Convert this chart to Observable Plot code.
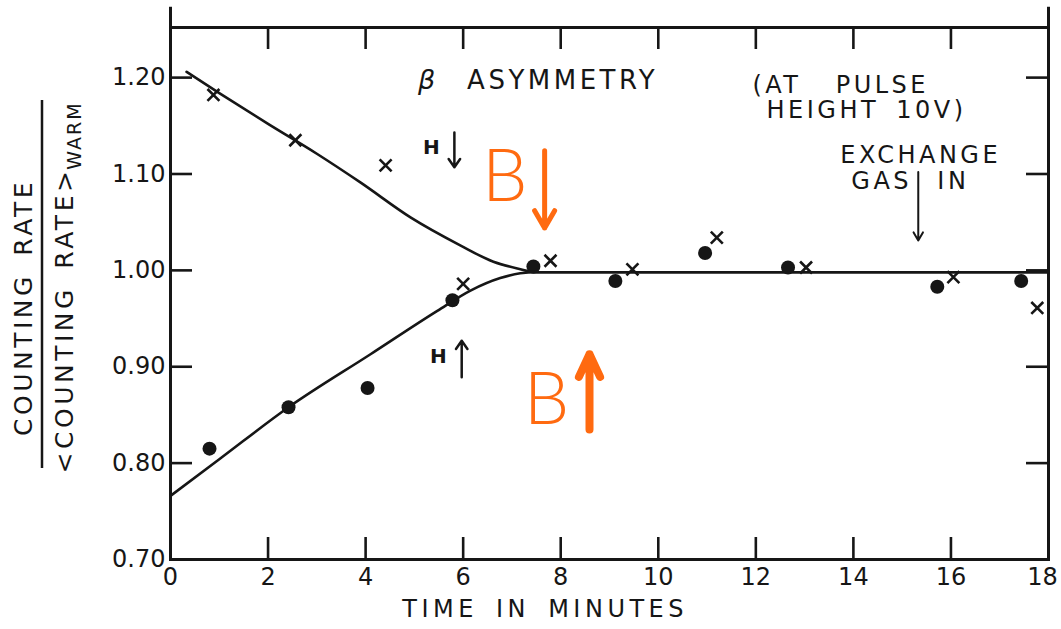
<!DOCTYPE html>
<html>
<head>
<meta charset="utf-8">
<script src="https://cdn.jsdelivr.net/npm/d3@7"></script>
<script src="https://cdn.jsdelivr.net/npm/@observablehq/plot@0.6"></script>
<style>
  body { margin: 0; background: #fff; }
  #chart svg { display: block; }
</style>
</head>
<body>
<div id="chart"></div>
<script>
// β asymmetry of Co-60 decay vs. time after demagnetization (pulse height 10 V)

const INK = "#161616";
const ORANGE = "#ff6a10";

// Field down (H↓): crosses
const crossTime = [0.88, 2.56, 4.41, 6.00, 7.79, 9.47, 11.20, 13.03, 16.05, 17.77];
const crossRate = [1.182, 1.135, 1.109, 0.986, 1.010, 1.001, 1.034, 1.003, 0.993, 0.961];

// Field up (H↑): filled dots
const dotTime = [0.80, 2.42, 4.04, 5.78, 7.44, 9.12, 10.96, 12.66, 15.72, 17.44];
const dotRate = [0.815, 0.858, 0.878, 0.969, 1.004, 0.989, 1.018, 1.003, 0.983, 0.989];

// Smooth guide curves through the two field directions
const upperCurveTime = [0.33, 1.0, 2.0, 3.0, 3.9, 4.92, 5.94, 6.62, 7.11, 7.5, 18];
const upperCurveRate = [1.206, 1.184, 1.152, 1.121, 1.091, 1.055, 1.026, 1.009, 1.002, 0.998, 0.998];
const lowerCurveTime = [0, 1.0, 2.42, 4.1, 5.47, 6.15, 6.76, 7.17, 7.5, 18];
const lowerCurveRate = [0.766, 0.804, 0.858, 0.913, 0.958, 0.979, 0.992, 0.997, 0.998, 0.998];

// Axis ticks
const xTicks = [0, 2, 4, 6, 8, 10, 12, 14, 16, 18];
const yTicks = [0.70, 0.80, 0.90, 1.00, 1.10, 1.20];

// Annotation labels (position in minutes / ratio units)
const titleText = ["ASYMMETRY"];
const titleTime = [8.04];
const titleRate = [1.197];

const pulseText = ["(AT  PULSE", "HEIGHT 10V)"];
const pulseTime = [13.74, 14.27];
const pulseRate = [1.192, 1.166];

const gasText = ["EXCHANGE", "GAS", "IN"];
const gasTextTime = [15.38, 14.58, 16.05];
const gasTextRate = [1.119, 1.092, 1.092];
const gasArrowTime = [15.33];
const gasArrowFrom = [1.102];
const gasArrowTo = [1.031];

const fieldText = ["H", "H"];
const fieldTextTime = [5.35, 5.49];
const fieldTextRate = [1.127, 0.911];
const fieldArrowTime = [5.82, 5.97];
const fieldArrowFrom = [1.143, 0.889];
const fieldArrowTo = [1.107, 0.927];

const bText = ["B", "B"];
const bTextTime = [6.85, 7.71];
const bTextRate = [1.096, 0.865];
const bDownArrow = {t: 7.67, from: 1.124, to: 1.044};
const bUpArrow = {t: 8.59, from: 0.835, to: 0.913};

const zip = (a, b) => a.map((v, i) => ({t: v, r: b[i]}));
const crosses = zip(crossTime, crossRate);
const dots = zip(dotTime, dotRate);
const upperCurve = zip(upperCurveTime, upperCurveRate);
const lowerCurve = zip(lowerCurveTime, lowerCurveRate);
const labelled = (texts, ts, rs) => texts.map((s, i) => ({s, t: ts[i], r: rs[i]}));
const titles = labelled(titleText, titleTime, titleRate);
const pulseNotes = labelled(pulseText, pulseTime, pulseRate);
const gasNotes = labelled(gasText, gasTextTime, gasTextRate);
const fieldLabels = labelled(fieldText, fieldTextTime, fieldTextRate);
const bLabels = labelled(bText, bTextTime, bTextRate);
const fieldArrows = fieldArrowTime.map((t, i) => ({t, from: fieldArrowFrom[i], to: fieldArrowTo[i]}));
const gasArrows = gasArrowTime.map((t, i) => ({t, from: gasArrowFrom[i], to: gasArrowTo[i]}));

const xMin = 0, xMax = 18;
const yMin = 0.70, yMax = 1.252, yOverhang = 1.273;

// layout
const W = 1061, H = 629;
const M = {top: 27, right: 13, bottom: 70, left: 170};
const frameW = W - M.left - M.right;
const frameH = H - M.top - M.bottom;
const TICK = 22;
// tick length expressed in each axis's own units
const tickDx = TICK * (xMax - xMin) / frameW;
const tickDy = TICK * (yMax - yMin) / frameH;

const chart = Plot.plot({
  width: W,
  height: H,
  marginLeft: M.left,
  marginRight: M.right,
  marginTop: M.top,
  marginBottom: M.bottom,
  style: {fontFamily: "DejaVu Sans", fontSize: "24px", color: INK, background: "#fff"},
  x: {domain: [xMin, xMax]},
  y: {domain: [yMin, yMax]},
  marks: [
    Plot.frame({stroke: INK, strokeWidth: 3}),
    Plot.ruleX([xMin, xMax], {y1: yMax, y2: yOverhang, stroke: INK, strokeWidth: 3}),

    // inward ticks on all four sides
    Plot.ruleX(xTicks, {x: d => d, y1: yMin, y2: yMin + tickDy, stroke: INK, strokeWidth: 2.6}),
    Plot.ruleX(xTicks, {x: d => d, y1: yMax, y2: yMax - tickDy, stroke: INK, strokeWidth: 2.6}),
    Plot.ruleY(yTicks, {y: d => d, x1: xMin, x2: xMin + tickDx, stroke: INK, strokeWidth: 2.6}),
    Plot.ruleY(yTicks, {y: d => d, x1: xMax, x2: xMax - tickDx, stroke: INK, strokeWidth: 2.6}),
    // tick labels
    Plot.axisX(xTicks, {anchor: "bottom", tickSize: 0, tickPadding: 8, label: null, tickFormat: d => String(d)}),
    Plot.axisY(yTicks, {anchor: "left", tickSize: 0, tickPadding: 5, label: null, tickFormat: d3.format(".2f")}),

    // axis titles
    Plot.text(["TIME IN MINUTES"], {frameAnchor: "bottom", x: () => 7.68, dy: 50, lineAnchor: "middle", textAnchor: "middle", text: d => d, fontSize: 24, fill: INK}),
    Plot.text(["COUNTING RATE"], {frameAnchor: "left", dx: -147, dy: 14, rotate: -90, textAnchor: "middle", lineAnchor: "middle", text: d => d, fontSize: 25, fill: INK}),
    Plot.text(["<COUNTING RATE>"], {frameAnchor: "left", dx: -106, dy: 27, rotate: -90, textAnchor: "middle", lineAnchor: "middle", text: d => d, fontSize: 25, fill: INK}),
    Plot.text(["WARM"], {frameAnchor: "left", dx: -96, dy: -158, rotate: -90, textAnchor: "middle", lineAnchor: "middle", text: d => d, fontSize: 19, fill: INK}),

    // fitted curves
    Plot.line(upperCurve, {x: "t", y: "r", curve: "monotone-x", stroke: INK, strokeWidth: 2.6}),
    Plot.line(lowerCurve, {x: "t", y: "r", curve: "monotone-x", stroke: INK, strokeWidth: 2.6}),

    // measurements
    Plot.dot(dots, {x: "t", y: "r", r: 7, fill: INK, stroke: null}),
    Plot.dot(crosses, {x: "t", y: "r", r: 5.5, symbol: "times", stroke: INK, strokeWidth: 2.6}),

    // annotations
    Plot.text(["β"], {x: () => 5.25, y: () => 1.197, text: d => d, fontSize: 27, fontStyle: "italic", fill: INK}),
    Plot.text(titles, {x: "t", y: "r", text: "s", fontSize: 26, fill: INK}),
    Plot.text(pulseNotes, {x: "t", y: "r", text: "s", fontSize: 24, fill: INK}),
    Plot.text(gasNotes, {x: "t", y: "r", text: "s", fontSize: 24, fill: INK}),
    Plot.text(fieldLabels, {x: "t", y: "r", text: "s", fontSize: 20, fontWeight: "bold", fill: INK}),
    Plot.arrow(fieldArrows, {x1: "t", x2: "t", y1: "from", y2: "to", stroke: INK, strokeWidth: 2.5, headLength: 6, headAngle: 70}),
    Plot.arrow(gasArrows, {x1: "t", x2: "t", y1: "from", y2: "to", stroke: INK, strokeWidth: 2, headLength: 7, headAngle: 60}),

    Plot.text(bLabels, {x: "t", y: "r", text: "s", fontSize: 72, fontFamily: "Lato", fontWeight: 300, fill: ORANGE}),
    Plot.arrow([bDownArrow], {x1: "t", x2: "t", y1: "from", y2: "to", stroke: ORANGE, strokeWidth: 5, headLength: 6, headAngle: 60, strokeLinecap: "round"}),
    Plot.arrow([bUpArrow], {x1: "t", x2: "t", y1: "from", y2: "to", stroke: ORANGE, strokeWidth: 8, headLength: 6, headAngle: 50, strokeLinecap: "round"})
  ]
});

// Stencil-style lettering: widen spacing on the title and annotation text
const svg = d3.select(chart);
svg.selectAll("text")
  .filter(function () {
    return !this.closest('[aria-label$="tick label"]') && !["B", "H", "β"].includes(this.textContent);
  })
  .style("letter-spacing", function () {
    const s = this.textContent;
    return s.startsWith("TIME") ? "4.5px" : s === "WARM" ? "2px" : "3.5px";
  })
  .style("word-spacing", "6px")
  .style("white-space", "pre");

// keep the last time label inside the page
svg.selectAll('[aria-label="x-axis tick label"] text')
  .filter(function () { return this.textContent === "18"; })
  .attr("dx", -6);

// Fraction bar of the y-axis title
svg.append("line")
  .attr("x1", 42).attr("x2", 42)
  .attr("y1", 100).attr("y2", 468)
  .attr("stroke", INK)
  .attr("stroke-width", 2.5);

document.getElementById("chart").appendChild(chart);
</script>
</body>
</html>
